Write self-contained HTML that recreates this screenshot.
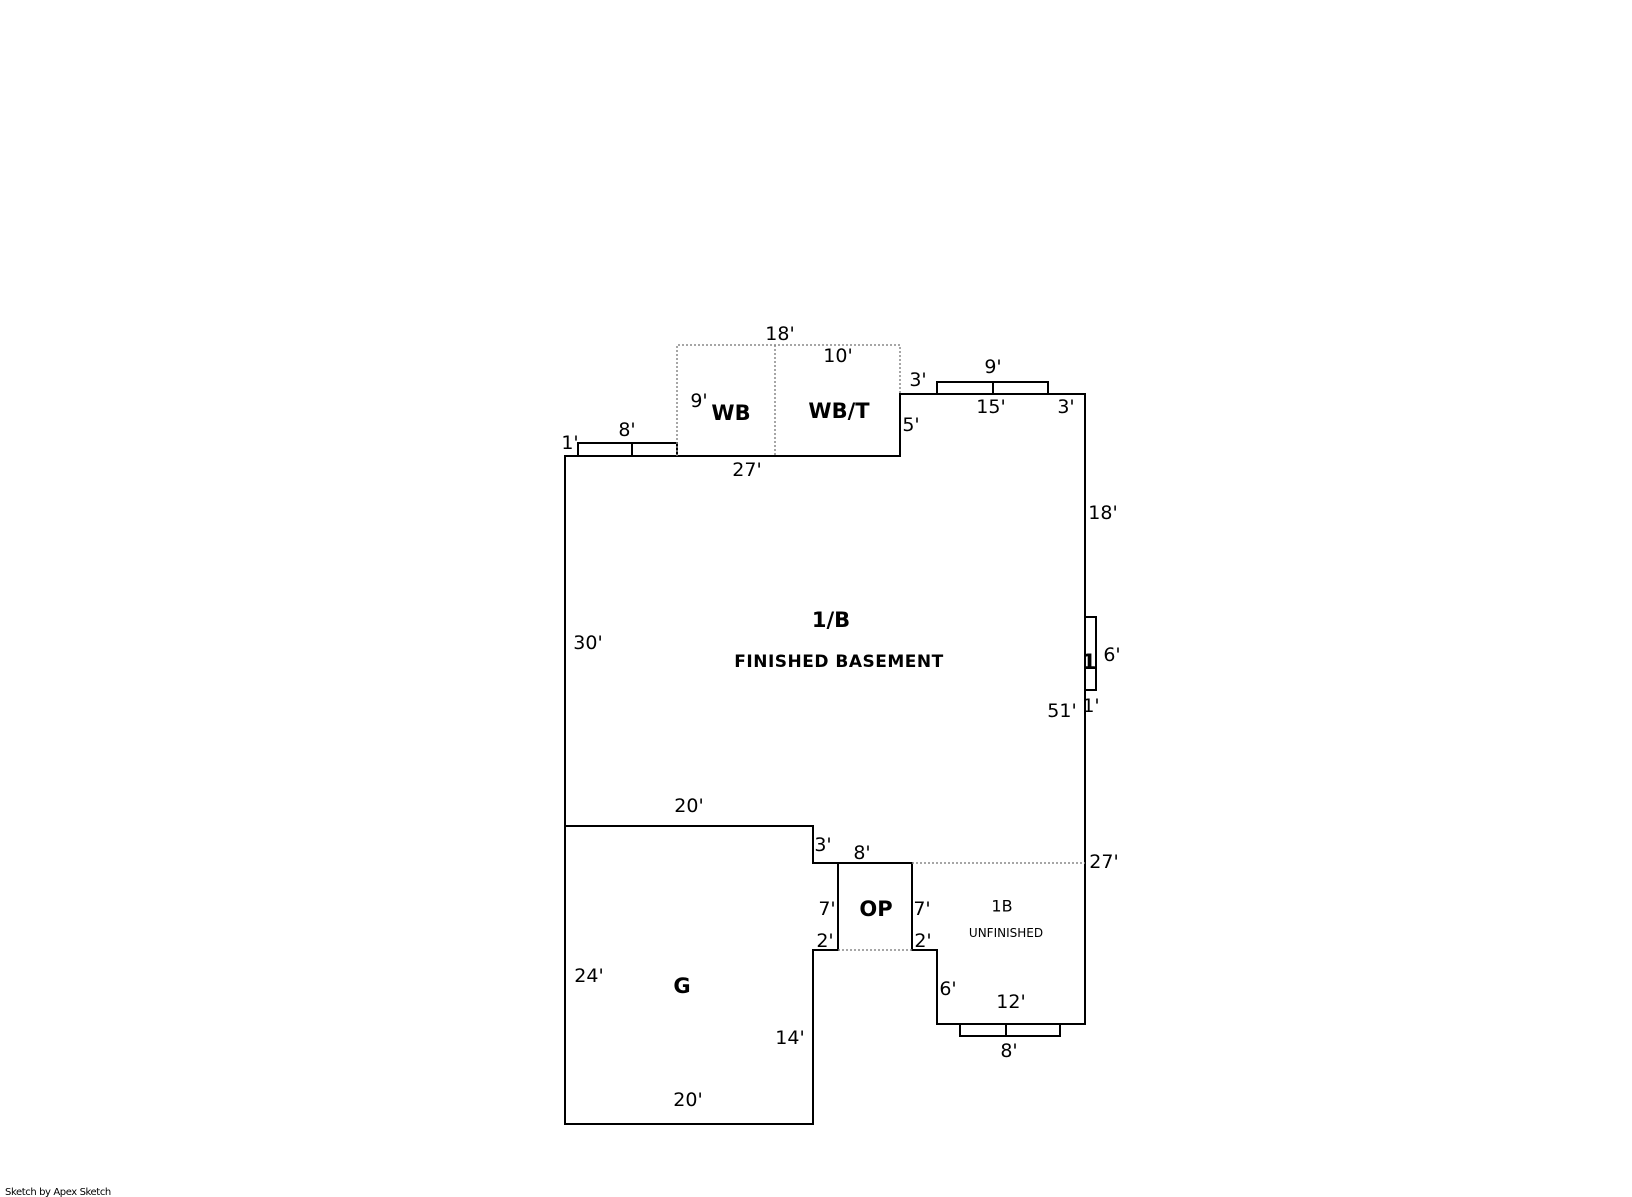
<!DOCTYPE html>
<html><head><meta charset="utf-8"><style>
html,body{margin:0;padding:0;background:#fff;}
svg{display:block;}
text{font-family:"DejaVu Sans","Liberation Sans",sans-serif;font-size:19px;fill:#000;}
.b{font-weight:bold;font-size:21px;}
</style></head><body>
<svg width="1632" height="1197" viewBox="0 0 1632 1197" xmlns="http://www.w3.org/2000/svg">
<g fill="none" stroke="#000" stroke-width="2">
<path d="M565 456 H900 V394 H1085 V1024 H937 V950 H912 V863 H838 V950 H813 V1124 H565 Z"/>
<path d="M565 826 H813 V863 H838"/>
<path d="M838 863 V950"/>
<path d="M578 456 V443 H677 V456"/>
<path d="M632 443 V456"/>
<path d="M937 394 V382 H1048 V394"/>
<path d="M993 382 V394"/>
<path d="M1085 617 H1096 V690 H1085"/>
<path d="M1085 668 H1096"/>
<path d="M960 1024 V1036 H1060 V1024"/>
<path d="M1006 1024 V1036"/>
</g>
<g fill="none" stroke="#888" stroke-width="1.5" stroke-dasharray="2,2">
<path d="M677 456 V345 H900 V394"/>
<path d="M775 345 V456"/>
<path d="M912 863 H1085"/>
<path d="M838 950 H912"/>
</g>
<g text-anchor="middle" dominant-baseline="central">
<text x="780" y="334">18'</text>
<text x="838" y="356">10'</text>
<text x="699" y="401">9'</text>
<text x="731" y="413" class="b">WB</text>
<text x="839" y="411" class="b">WB/T</text>
<text x="911" y="425">5'</text>
<text x="918" y="380">3'</text>
<text x="993" y="367">9'</text>
<text x="991" y="407">15'</text>
<text x="1066" y="407">3'</text>
<text x="570" y="443">1'</text>
<text x="627" y="430">8'</text>
<text x="747" y="470">27'</text>
<text x="1103" y="513">18'</text>
<text x="831" y="620" class="b">1/B</text>
<text x="839" y="662" class="b" style="font-size:17px;letter-spacing:0.5px">FINISHED BASEMENT</text>
<text x="588" y="643">30'</text>
<text x="1089" y="662" class="b">1</text>
<text x="1112" y="655">6'</text>
<text x="1062" y="711">51'</text>
<text x="1091" y="706">1'</text>
<text x="689" y="806">20'</text>
<text x="823" y="845">3'</text>
<text x="862" y="853">8'</text>
<text x="1104" y="862">27'</text>
<text x="827" y="909">7'</text>
<text x="876" y="909" class="b">OP</text>
<text x="922" y="909">7'</text>
<text x="1002" y="906" style="font-size:16px">1B</text>
<text x="1006" y="933" style="font-size:12px">UNFINISHED</text>
<text x="825" y="941">2'</text>
<text x="923" y="941">2'</text>
<text x="589" y="976">24'</text>
<text x="682" y="986" class="b">G</text>
<text x="948" y="989">6'</text>
<text x="1011" y="1002">12'</text>
<text x="790" y="1038">14'</text>
<text x="1009" y="1051">8'</text>
<text x="688" y="1100">20'</text>
</g>
<text x="5" y="1195" style="font-size:10px;letter-spacing:-0.4px">Sketch by Apex Sketch</text>
</svg>
</body></html>
